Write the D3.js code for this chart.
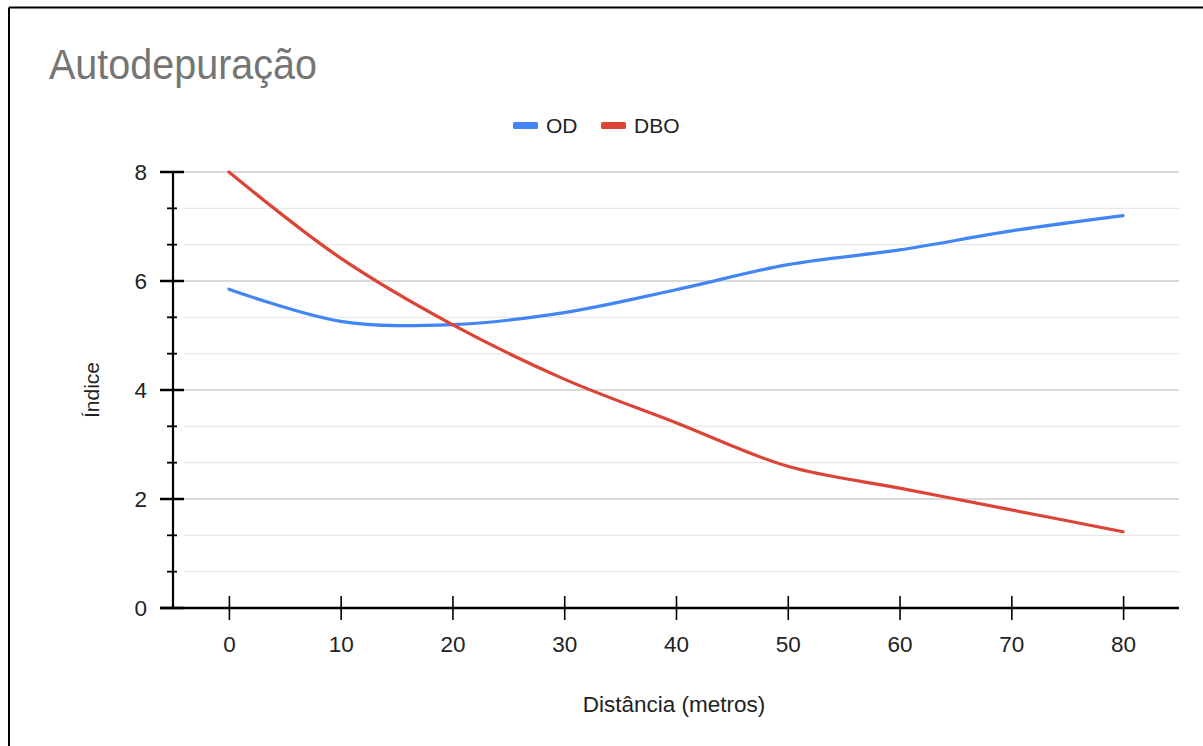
<!DOCTYPE html>
<html>
<head>
<meta charset="utf-8">
<script src="https://cdn.jsdelivr.net/npm/d3@7"></script>
<style>
  body { margin: 0; background: #fff; }
  svg { display: block; font-family: Arial, "Liberation Sans", sans-serif; }
</style>
</head>
<body>
<svg id="chart"></svg>
<script>
// data
const distances = [0, 10, 20, 30, 40, 50, 60, 70, 80]
const odValues = [5.85, 5.26, 5.2, 5.42, 5.84, 6.3, 6.57, 6.92, 7.2]
const dboValues = [8.0, 6.42, 5.2, 4.2, 3.4, 2.6, 2.2, 1.8, 1.4]
const seriesNames = ['OD', 'DBO']
const seriesColors = ['#4285f4', '#db4437']
const xTicks = [0, 10, 20, 30, 40, 50, 60, 70, 80]
const yTicks = [0, 2, 4, 6, 8]

const svgWidth = 1203
const svgHeight = 746
const labelSize = 22.5

const svg = d3.select('#chart')
  .attr('width', svgWidth)
  .attr('height', svgHeight)

// frame around the picture
svg.append('line')
  .attr('x1', 9).attr('x2', svgWidth).attr('y1', 7.5).attr('y2', 7.5)
  .attr('stroke', '#000').attr('stroke-width', 2)
svg.append('line')
  .attr('x1', 9).attr('x2', 9).attr('y1', 7.5).attr('y2', svgHeight)
  .attr('stroke', '#000').attr('stroke-width', 2)

// scales
const x = d3.scaleLinear().domain([-5, 85]).range([173, 1179])
const y = d3.scaleLinear().domain([0, 8]).range([608, 172])

// title
svg.append('text')
  .attr('x', 49)
  .attr('y', 79)
  .attr('font-size', 42)
  .attr('fill', '#757575')
  .attr('textLength', 268)
  .attr('lengthAdjust', 'spacingAndGlyphs')
  .text('Autodepuração')

// legend
const legendX = [513, 601]
const legend = svg.append('g')
seriesNames.forEach((name, i) => {
  legend.append('rect')
    .attr('x', legendX[i]).attr('y', 122)
    .attr('width', 25).attr('height', 7)
    .attr('rx', 1.5)
    .attr('fill', seriesColors[i])
  legend.append('text')
    .attr('x', legendX[i] + 33).attr('y', 133)
    .attr('font-size', 21)
    .attr('fill', '#222')
    .text(name)
})

// gridlines: every 2/3 of a unit, majors on the labelled values
const gridValues = d3.range(0, 13).map(k => k * 2 / 3)
const grid = svg.append('g')
grid.selectAll('line')
  .data(gridValues.filter(v => v > 0))
  .enter()
  .append('line')
  .attr('x1', 184).attr('x2', x(85))
  .attr('y1', d => y(d)).attr('y2', d => y(d))
  .attr('stroke', (d, i) => (i + 1) % 3 === 0 ? '#cccccc' : '#e8e8e8')
  .attr('stroke-width', (d, i) => (i + 1) % 3 === 0 ? 1.6 : 1.3)

// y axis
const yAxis = d3.axisLeft(y)
  .tickValues(yTicks)
  .tickSize(0)
  .tickPadding(26)
  .tickFormat(d3.format('d'))

svg.append('g')
  .attr('transform', `translate(${x(-5)},0)`)
  .call(yAxis)
  .call(g => g.select('.domain').remove())
  .call(g => g.selectAll('text')
    .attr('font-size', labelSize)
    .attr('fill', '#222')
    .attr('font-family', 'Arial, "Liberation Sans", sans-serif'))

// y axis ticks: majors long, minors short
svg.append('g')
  .selectAll('line')
  .data(gridValues)
  .enter()
  .append('line')
  .attr('x1', (d, i) => i % 3 === 0 ? 160 : 167)
  .attr('x2', (d, i) => i % 3 === 0 ? 184 : 177)
  .attr('y1', d => y(d)).attr('y2', d => y(d))
  .attr('stroke', '#000')
  .attr('stroke-width', (d, i) => i % 3 === 0 ? 2.5 : 1.8)

svg.append('line')
  .attr('x1', x(-5)).attr('x2', x(-5))
  .attr('y1', y(8)).attr('y2', y(0))
  .attr('stroke', '#000').attr('stroke-width', 2.2)

// x axis
const xAxis = d3.axisBottom(x)
  .tickValues(xTicks)
  .tickSize(12)
  .tickPadding(16)
  .tickFormat(d3.format('d'))

svg.append('g')
  .attr('transform', `translate(0,${y(0)})`)
  .call(xAxis)
  .call(g => g.select('.domain').remove())
  .call(g => g.selectAll('.tick line')
    .attr('y1', -12)
    .attr('stroke', '#000')
    .attr('stroke-width', 1.6))
  .call(g => g.selectAll('text')
    .attr('font-size', labelSize)
    .attr('fill', '#222')
    .attr('font-family', 'Arial, "Liberation Sans", sans-serif'))

svg.append('line')
  .attr('x1', 160).attr('x2', x(85))
  .attr('y1', y(0)).attr('y2', y(0))
  .attr('stroke', '#000').attr('stroke-width', 2.6)

// axis titles
svg.append('text')
  .attr('x', 674).attr('y', 712)
  .attr('text-anchor', 'middle')
  .attr('font-size', labelSize)
  .attr('fill', '#222')
  .text('Distância (metros)')

svg.append('text')
  .attr('transform', `translate(99,${y(4)}) rotate(-90)`)
  .attr('text-anchor', 'middle')
  .attr('font-size', 21)
  .attr('fill', '#222')
  .text('Índice')

// lines
const line = d3.line()
  .x(d => x(d[0]))
  .y(d => y(d[1]))
  .curve(d3.curveCatmullRom.alpha(0.5))

const series = [odValues, dboValues]
series.forEach((values, i) => {
  svg.append('path')
    .datum(distances.map((dist, k) => [dist, values[k]]))
    .attr('d', line)
    .attr('fill', 'none')
    .attr('stroke', seriesColors[i])
    .attr('stroke-width', 3.2)
    .attr('stroke-linecap', 'round')
})
</script>
</body>
</html>
